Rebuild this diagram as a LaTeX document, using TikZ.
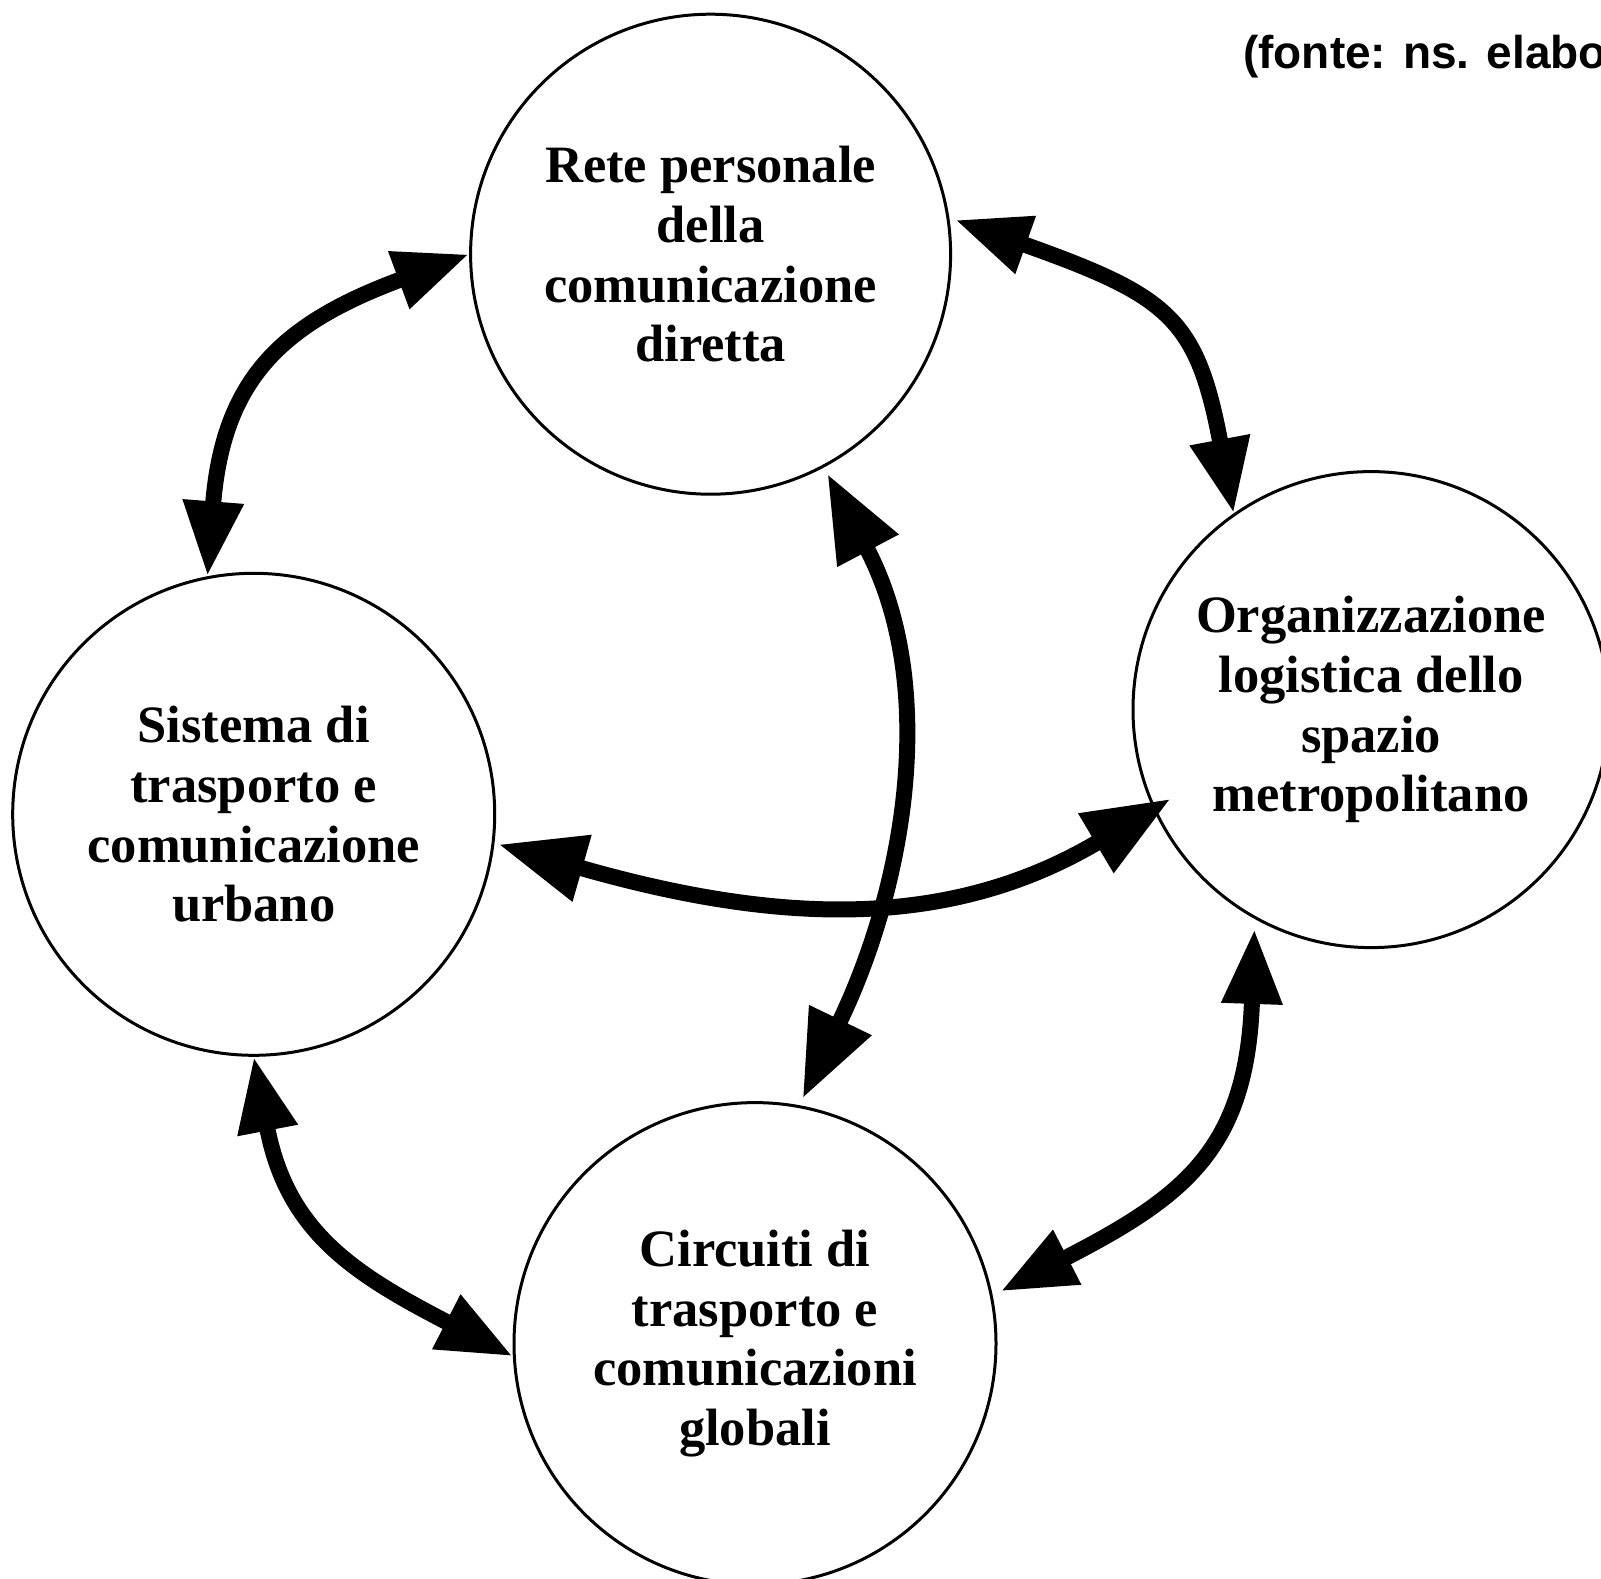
\documentclass[tikz,border=0pt]{standalone}
\usepackage{fontspec}
\setmainfont{Liberation Serif}
\newfontfamily\notefont{Liberation Sans}
\usetikzlibrary{arrows.meta,calc}

\begin{document}
\begin{tikzpicture}[x=1pt,y=-1pt,
  hub/.style={circle,draw,line width=3pt,inner sep=0pt,align=center,
    font=\fontsize{52.5}{59.7}\selectfont\bfseries},
  link/.style={line width=16pt,
    {Triangle[length=75pt,width=57pt]}-{Triangle[length=75pt,width=57pt]}},
  biglink/.style={line width=16pt,
    {Triangle[length=87pt,width=65pt]}-{Triangle[length=87pt,width=65pt]}}]
\useasboundingbox (0,0) rectangle (1601,1579);
\begin{scope}
\clip (0,0) rectangle (1601,1579);
\fill[white] (0,0) rectangle (1601,1579);

% the four systems
\node[hub,minimum size=480pt] (T) at (710.6,254.2) {Rete personale\\della\\comunicazione\\diretta};
\node[hub,minimum size=482pt] (L) at (253.7,814.3) {Sistema di\\trasporto e\\comunicazione\\urbano};
\node[hub,minimum size=476pt] (R) at (1371,709.6) {Organizzazione\\logistica dello\\spazio\\metropolitano};
\node[hub,minimum size=482pt] (B) at (755,1343.6) {Circuiti di\\trasporto e\\comunicazioni\\globali};

% two-way relations round the ring
\draw[link] (T.180) .. controls (283,323) and (223,378) .. (L.101);
\draw[link] ($(T.center)!1.022!(T.8.4)$) .. controls (1169,296) and (1197,318) .. (R.125);
\draw[link] (L.-90) .. controls (287,1232) and (354,1274) .. (B.183);
\draw[link] ($(R.center)!1.037!(R.242.5)$) .. controls (1247,1148) and (1186,1196) .. ($(B.center)!1.035!(B.12)$);

% the two crossing relations
\draw[biglink] ($(T.center)!1.03!(T.-62)$) .. controls (939,685) and (906,884) .. ($(B.center)!1.03!(B.79)$);
\draw[biglink] ($(L.center)!1.017!(L.-7)$) .. controls (780,925) and (950,930) .. ($(R.center)!0.916!(R.204)$);

% source note
\node[anchor=base west,inner sep=0pt,font=\notefont\bfseries\fontsize{46}{55}\selectfont] (src) at (1243,69) {(fonte: ns. elabo};
\end{scope}
\end{tikzpicture}
\end{document}
